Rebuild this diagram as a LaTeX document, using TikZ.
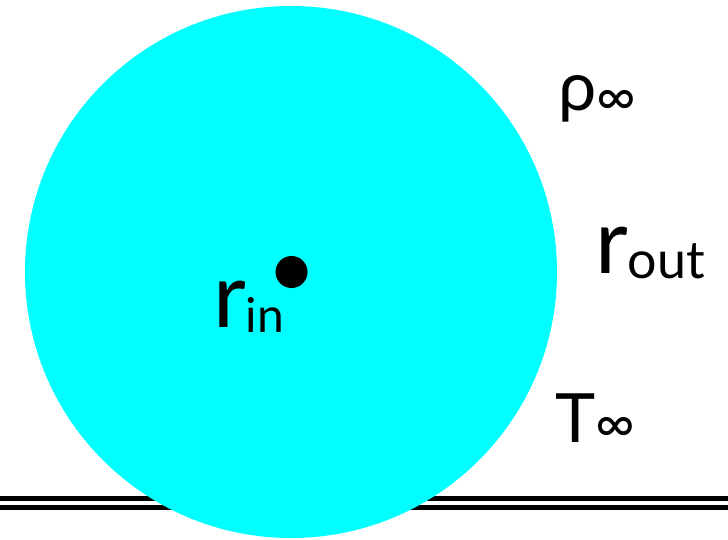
\documentclass[tikz,border=0pt]{standalone}
\usepackage{fontspec}
\setmainfont{Lato}
\usetikzlibrary{positioning}
\definecolor{dropcyan}{HTML}{00FFFF}
\tikzset{
  lbl/.style={anchor=base west, inner sep=0pt, font=\fontsize{68}{68}\selectfont},
  rlbl/.style={anchor=base west, inner sep=0pt, font=\fontsize{90}{90}\selectfont},
  rail/.style={draw=black, line cap=butt},
}
\newcommand{\lowsub}[3]{\raisebox{-#1}{\fontsize{#2}{#2}\selectfont #3}}

\begin{document}
\begin{tikzpicture}[x=1pt,y=-1pt]
    \useasboundingbox (0,0) rectangle (728,539);
    \clip (0,0) rectangle (728,539);
    % floor rails
    \coordinate (railA) at (0,498.5);
    \coordinate (railB) at (728,498.5);
    \coordinate (railC) at (0,507.5);
    \coordinate (railD) at (728,507.5);
    \draw[rail, line width=4.5pt] (railA) -- (railB);
    \draw[rail, line width=5.5pt] (railC) -- (railD);
    % drop
    \node[circle, fill=dropcyan, minimum size=532pt, inner sep=0pt] (drop) at (291,272) {};
    \node[circle, fill=black, minimum size=32pt, inner sep=0pt] (centre) at (291.5,272) {};
    % labels
    \node[rlbl] (rin)  at (213,327) {r\lowsub{5pt}{48}{in}};
    \node[lbl]  (rho)  at (558,110) {ρ\lowsub{5pt}{54}{∞}};
    \node[rlbl] (rout) at (595,273) {r\lowsub{5pt}{52}{out}};
    \node[lbl]  (tinf) at (555,442) {T\lowsub{0pt}{54}{∞}};
\end{tikzpicture}
\end{document}
